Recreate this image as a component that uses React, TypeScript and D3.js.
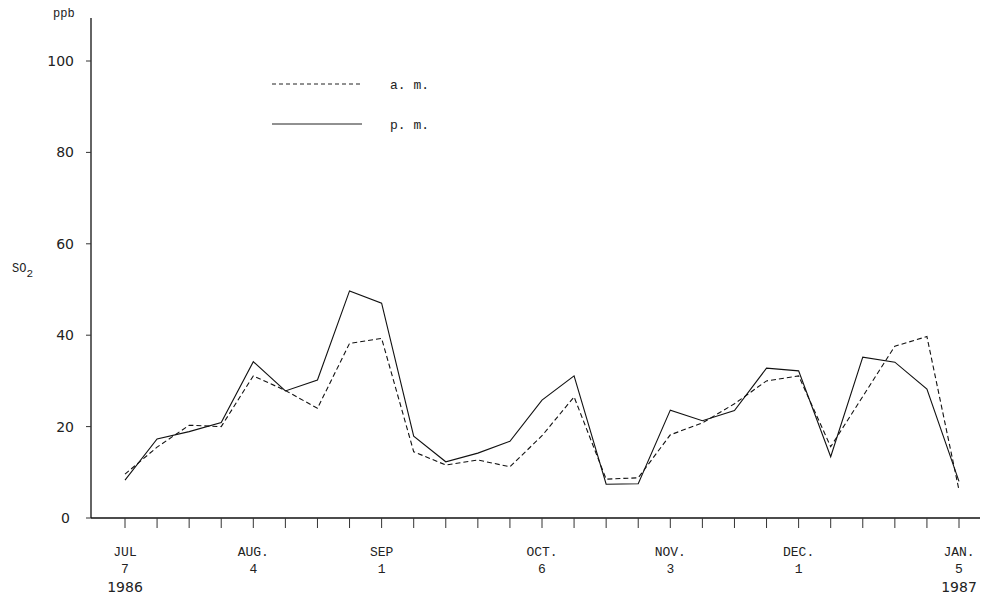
import React from "react";
import * as d3 from "d3";

const weeks = d3.range(0, 27);
const pmValues = [8.3, 17.3, 18.9, 20.9, 34.2, 27.8, 30.2, 49.7, 47.0, 17.9, 12.3, 14.2, 16.8, 25.8, 31.1, 7.4, 7.5, 23.6, 21.3, 23.5, 32.8, 32.2, 13.4, 35.2, 34.1, 28.2, 8.0];
const amValues = [9.6, 15.5, 20.3, 20.0, 31.1, 27.9, 24.0, 38.2, 39.3, 14.5, 11.6, 12.7, 11.2, 18.0, 26.5, 8.5, 8.8, 18.2, 20.8, 25.0, 30.0, 31.1, 15.6, 26.6, 37.6, 39.7, 6.1];
const yTicks = [0, 20, 40, 60, 80, 100];
const monthLabels = [
  { week: 0, lines: ["JUL", "7", "1986"] },
  { week: 4, lines: ["AUG.", "4"] },
  { week: 8, lines: ["SEP", "1"] },
  { week: 13, lines: ["OCT.", "6"] },
  { week: 17, lines: ["NOV.", "3"] },
  { week: 21, lines: ["DEC.", "1"] },
  { week: 26, lines: ["JAN.", "5", "1987"] },
];

export default function App() {
  const x = d3.scaleLinear().domain([0, 26]).range([125, 959]);
  const y = d3.scaleLinear().domain([0, 100]).range([518, 61]);
  const line = d3
    .line<number>()
    .x((_, i) => x(weeks[i]))
    .y((d) => y(d));
  const mono = "'Liberation Mono', 'DejaVu Sans Mono', monospace";
  const sans = "'DejaVu Sans', 'Liberation Sans', sans-serif";
  const baselines = [556, 573, 592];
  return (
    <svg
      width={984}
      height={603}
      style={{ position: "absolute", left: 0, top: 0, background: "#fff" }}
    >
      {/* axes */}
      <line x1={91} y1={18} x2={91} y2={518} stroke="#111" strokeWidth={1.3} />
      <line x1={91} y1={518} x2={980} y2={518} stroke="#111" strokeWidth={1.3} />
      {yTicks.map((t) => (
        <g key={t}>
          <line x1={86} x2={91} y1={y(t)} y2={y(t)} stroke="#333" strokeWidth={1} />
          <text
            x={t === 0 ? 70 : 74}
            y={y(t) + 5}
            textAnchor="end"
            fontFamily={sans}
            fontSize={14}
            fill="#222"
          >
            {t}
          </text>
        </g>
      ))}
      {weeks.map((w) => (
        <line key={w} x1={x(w)} x2={x(w)} y1={518} y2={528} stroke="#333" strokeWidth={1} />
      ))}
      <text x={53} y={17} fontFamily={mono} fontSize={12} fill="#222">ppb</text>
      <text x={12} y={272} fontFamily={mono} fontSize={12} fill="#222">
        SO<tspan dy={5} fontSize={11}>2</tspan>
      </text>
      {monthLabels.map((m) => (
        <g key={m.week}>
          {m.lines.map((l, i) => (
            <text
              key={i}
              x={x(m.week)}
              y={baselines[i]}
              textAnchor="middle"
              fontFamily={i === 2 ? sans : mono}
              fontSize={i === 2 ? 14 : 13}
              fill="#222"
            >
              {l}
            </text>
          ))}
        </g>
      ))}
      {/* legend */}
      <line x1={272} x2={362} y1={84} y2={84} stroke="#222" strokeWidth={1} strokeDasharray="4,3" />
      <text x={390} y={89} fontFamily={mono} fontSize={13} fill="#222">a. m.</text>
      <line x1={272} x2={362} y1={124} y2={124} stroke="#222" strokeWidth={1} />
      <text x={390} y={129} fontFamily={mono} fontSize={13} fill="#222">p. m.</text>
      {/* data */}
      <path d={line(pmValues) ?? ""} fill="none" stroke="#111" strokeWidth={1.1} />
      <path d={line(amValues) ?? ""} fill="none" stroke="#111" strokeWidth={1.1} strokeDasharray="5,3" />
    </svg>
  );
}
